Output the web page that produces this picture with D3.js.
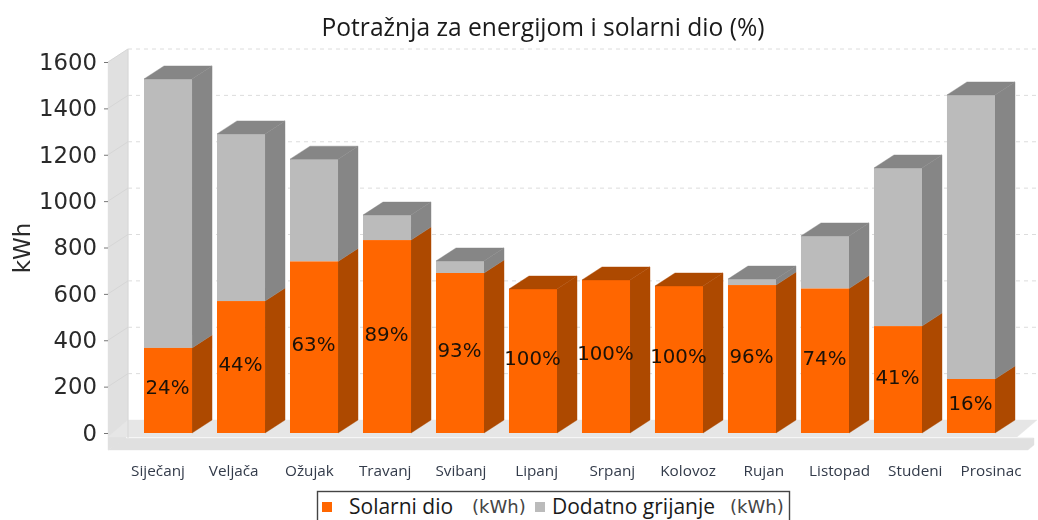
<!DOCTYPE html>
<html><head><meta charset="utf-8">
<script src="https://cdnjs.cloudflare.com/ajax/libs/d3/7.8.5/d3.min.js"></script>
<style>
html,body{margin:0;padding:0;background:#fff;overflow:hidden}
svg{display:block;filter:blur(0.55px)}
</style></head><body>
<div id="chart"></div>
<script>
const months = ["Siječanj","Veljača","Ožujak","Travanj","Svibanj","Lipanj","Srpanj","Kolovoz","Rujan","Listopad","Studeni","Prosinac"];
const solar = [367,569,740,832,690,621,660,634,638,623,461,233];
const extra = [1160,721,441,108,52,0,0,0,26,227,682,1225];
const shares = ["24%","44%","63%","89%","93%","100%","100%","100%","96%","74%","41%","16%"];
const yTicks = [0,200,400,600,800,1000,1200,1400,1600];
const chartTitle = "Potražnja za energijom i solarni dio (%)";
const yTitle = "kWh";
const legendItems = ["Solarni dio","Dodatno grijanje"];
const legendUnit = "(kWh)";

const W=1038,H=520, dx=20, dy=-13;
const svg=d3.select("#chart").append("svg").attr("width",W).attr("height",H);
const x=d3.scaleBand().domain(months).range([144,995]).paddingInner(0.342).paddingOuter(0);
const xLabel=d3.scalePoint().domain(months).range([158,991]);
const y=d3.scaleLinear().domain([0,1600]).range([433,62]);
const poly=(g,pts,fill)=>g.append("polygon").attr("points",pts.map(p=>p.join(",")).join(" ")).attr("fill",fill).attr("stroke",fill).attr("stroke-width",0.4);

// walls and floor
const wallL=108, wallR=1033, y0=y(0);
const bg=svg.append("g");
poly(bg,[[wallL,y(1600)],[wallL+dx,y(1600)+dy],[wallL+dx,y0+5],[wallL,y0+17]],"#e0e0e0");
poly(bg,[[wallL+dx,y0+dy],[wallR+4,y0+dy],[wallR-16,y0+4],[wallL,y0+4]],"#e6e6e6");
poly(bg,[[wallL+18,y0+5],[wallR+1,y0+5],[wallR+1,y0+12],[wallR-5,y0+17],[wallL,y0+17]],"#e0e0e0");
bg.append("rect").attr("x",wallL+18).attr("y",y0+4).attr("width",wallR-wallL-18).attr("height",1.2).attr("fill","#f6f6f6");
bg.append("line").attr("x1",wallL+dx).attr("x2",wallL+dx).attr("y1",y(1600)+dy).attr("y2",y0+5).attr("stroke","#d6d6d6").attr("stroke-width",1);

// gridlines
const grid=svg.append("g");
grid.selectAll("line.g").data(yTicks.slice(1)).join("line").attr("class","g")
 .attr("x1",wallL+dx).attr("x2",1037).attr("y1",d=>y(d)+dy).attr("y2",d=>y(d)+dy)
 .attr("stroke","#dcdcdc").attr("stroke-width",1).attr("stroke-dasharray","4 4");
grid.selectAll("line.w").data(yTicks.slice(1)).join("line").attr("class","w")
 .attr("x1",wallL).attr("x2",wallL+dx).attr("y1",d=>y(d)).attr("y2",d=>y(d)+dy)
 .attr("stroke","#d6d6d6").attr("stroke-width",1);

// bars
const bars=svg.append("g");
months.forEach((m,i)=>{
  const x0=x(m), w=x.bandwidth(), s=solar[i], t=solar[i]+extra[i];
  const g=bars.append("g");
  poly(g,[[x0+w,y(0)],[x0+w+dx,y(0)+dy],[x0+w+dx,y(s)+dy],[x0+w,y(s)]],"#ad4900");
  if(extra[i]>0){
    poly(g,[[x0+w,y(s)],[x0+w+dx,y(s)+dy],[x0+w+dx,y(t)+dy],[x0+w,y(t)]],"#868686");
    g.append("rect").attr("x",x0).attr("width",w).attr("y",y(t)).attr("height",y(s)-y(t)).attr("fill","#bbbbbb");
  }
  g.append("rect").attr("x",x0).attr("width",w).attr("y",y(s)).attr("height",y(0)-y(s)).attr("fill","#ff6600");
  poly(g,[[x0,y(t)],[x0+dx,y(t)+dy],[x0+w+dx,y(t)+dy],[x0+w,y(t)]],extra[i]>0?"#868686":"#ad4900");
});
// value labels
svg.append("g").selectAll("text").data(months).join("text")
 .attr("x",d=>x(d)+x.bandwidth()/2-0.5)
 .attr("y",(d,i)=>(y(0)+y(solar[i]))/2+4)
 .attr("text-anchor","middle").attr("font-family","DejaVu Sans").attr("font-size",19.8).attr("fill","#1c1208")
 .text((d,i)=>shares[i]);

// y axis
const ax=svg.append("g").attr("transform",`translate(${wallL},0)`)
 .call(d3.axisLeft(y).tickValues(yTicks).tickFormat(d3.format("d")).tickSize(4).tickPadding(7));
ax.select(".domain").remove();
ax.selectAll(".tick line").attr("stroke","#777");
ax.selectAll("text").attr("font-family","DejaVu Sans").attr("font-size",22.8).attr("fill","#2a2a2a");

// x labels
svg.append("g").selectAll("text").data(months).join("text")
 .attr("x",d=>xLabel(d))
 .attr("y",476).attr("text-anchor","middle").attr("font-family","Open Sans").attr("font-size",15.3).attr("fill","#333b4a")
 .text(d=>d);

// titles
svg.append("text").attr("x",543).attr("y",36).attr("text-anchor","middle").attr("font-family","Open Sans").attr("font-size",24.6).attr("fill","#1a1a1a").text(chartTitle);
svg.append("text").attr("transform","translate(30,248) rotate(-90)").attr("text-anchor","middle").attr("font-family","DejaVu Sans").attr("font-size",23).attr("fill","#2a2a2a").text(yTitle);

// legend
const lg=svg.append("g");
lg.append("rect").attr("x",317.5).attr("y",491.5).attr("width",472).attr("height",40).attr("fill","#fff").attr("stroke","#444").attr("stroke-width",1.4);
lg.append("rect").attr("x",322).attr("y",502).attr("width",10).attr("height",10).attr("fill","#ff6600");
lg.append("rect").attr("x",535).attr("y",502).attr("width",10).attr("height",10).attr("fill","#bbbbbb");
lg.append("text").attr("x",349).attr("y",514).attr("font-family","Open Sans").attr("font-size",21).attr("fill","#1a1a1a").text(legendItems[0]);
lg.append("text").attr("x",552).attr("y",514).attr("font-family","Open Sans").attr("font-size",21).attr("fill","#1a1a1a").text(legendItems[1]);
lg.append("text").attr("x",472).attr("y",513).attr("font-family","DejaVu Sans").attr("font-size",18).attr("fill","#444").text(legendUnit);
lg.append("text").attr("x",730).attr("y",513).attr("font-family","DejaVu Sans").attr("font-size",18).attr("fill","#444").text(legendUnit);
</script>
</body></html>
